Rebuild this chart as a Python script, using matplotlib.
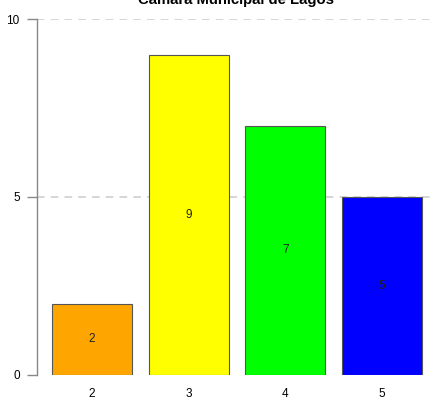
import matplotlib
matplotlib.use("Agg")
import matplotlib.pyplot as plt

plt.rcParams['font.family'] = ['Liberation Sans', 'DejaVu Sans']

categories = ["2", "3", "4", "5"]
values = [2, 9, 7, 5]
colors = ["#FFA500", "#FFFF00", "#00FF00", "#0000FF"]
title = "Câmara Municipal de Lagos"
yticks = [0, 5, 10]

W, H = 433, 401
top_px, bottom_px = 19.5, 374.5
fig = plt.figure(figsize=(W / 100, H / 100), dpi=100)
ax = fig.add_axes([37 / W, (H - bottom_px) / H, (W - 37) / W, (bottom_px - top_px) / H])

pos = list(range(len(categories)))
ax.bar(pos, values, width=0.8276, color=colors, edgecolor="#555555", linewidth=0.8, zorder=3)
for p, v in zip(pos, values):
    ax.text(p, v / 2, str(v), ha="center", va="center", fontsize=8.5, color="#222222", zorder=4)

ax.set_xlim(-0.569, 3.527)
ax.set_ylim(0, 10)
ax.set_yticks(yticks)
ax.set_yticklabels([str(t) for t in yticks], fontsize=8.5)
ax.set_xticks(pos)
ax.set_xticklabels(categories, fontsize=8.5)
ax.tick_params(axis="x", length=0, pad=10)
ax.tick_params(axis="y", length=7, color="#888888", width=1, pad=5.5)

for t in yticks[1:]:
    ax.axhline(t, color="#CCCCCC", linestyle=(0, (5, 4)), linewidth=1.1, zorder=1)

for s in ["top", "right", "bottom"]:
    ax.spines[s].set_visible(False)
ax.spines["left"].set_color("#888888")
ax.spines["left"].set_linewidth(1)

fig.text(236 / W, (H - 4) / H, title, ha="center", va="baseline", fontsize=10.7, fontweight="bold")

fig.savefig("out.png", dpi=100)
